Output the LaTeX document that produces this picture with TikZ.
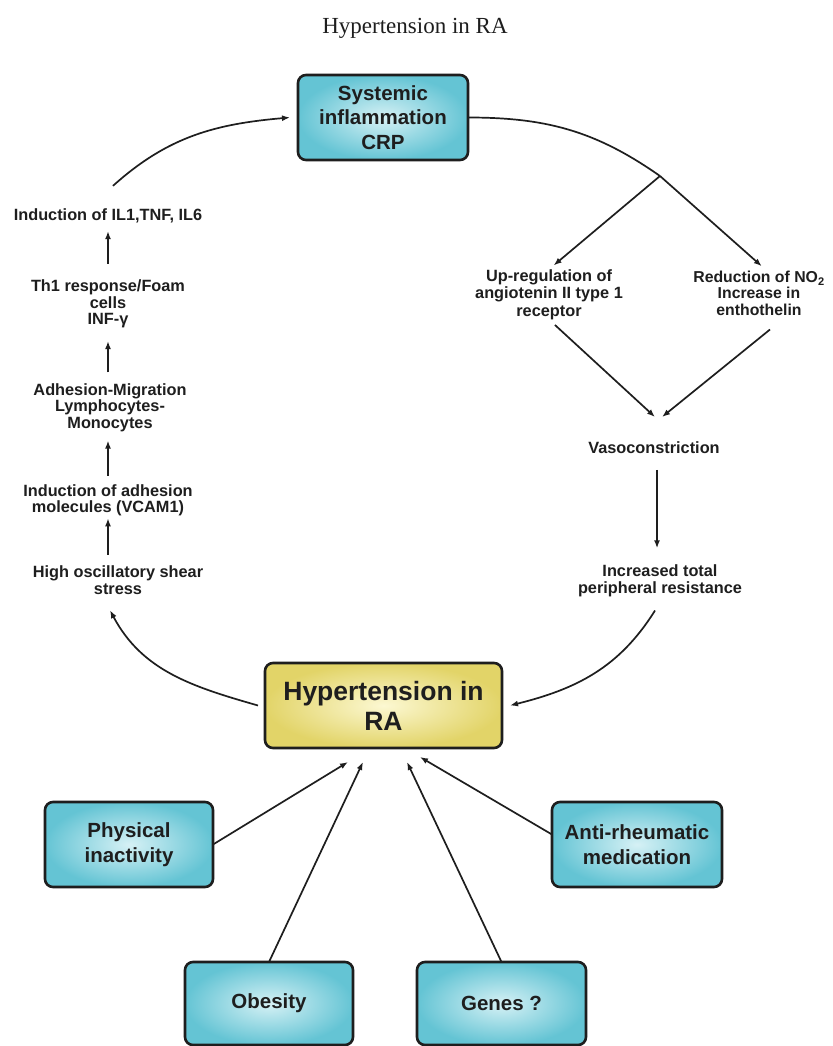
\documentclass[tikz,border=0pt]{standalone}
\usepackage{fontspec}
\setmainfont{Liberation Serif}
\setsansfont{Liberation Sans}
\usetikzlibrary{arrows.meta}
\definecolor{ink}{HTML}{1E1E1E}
\definecolor{cyanout}{RGB}{100,196,212}
\definecolor{cyanin}{RGB}{214,241,245}
\definecolor{yelout}{RGB}{226,212,104}
\definecolor{yelin}{RGB}{252,248,210}

\tikzset{
  every node/.style={inner sep=0pt, outer sep=0pt},
  lbl/.style={font=\sffamily\bfseries\fontsize{16.3}{16.5}\selectfont, text=ink, align=center},
  boxbase/.style={draw=ink, line width=2.6pt, rounded corners=8pt, align=center, text=ink,
    font=\sffamily\bfseries\fontsize{20.5}{24.5}\selectfont},
  cbox/.style={boxbase, inner color=cyanin, outer color=cyanout},
  ybox/.style={boxbase, inner color=yelin, outer color=yelout,
    font=\sffamily\bfseries\fontsize{26.5}{30}\selectfont},
  arr/.style={draw=ink, line width=1.7pt, -{Latex[length=8pt,width=6pt]}},
  link/.style={draw=ink, line width=1.7pt},
}

\begin{document}
\begin{tikzpicture}[x=1pt,y=1pt]
  \useasboundingbox (0,0) rectangle (832,-1046);
  \fill[white] (0,0) rectangle (832,-1046);

  % title
  \node[font=\fontsize{23}{26}\selectfont, text=ink] (title) at (415,-28) {Hypertension in RA};

  % boxes
  \node[cbox, minimum width=170pt, minimum height=85pt] (sys) at (383,-117.5) {Systemic\\inflammation\\CRP};
  \node[ybox, minimum width=237pt, minimum height=85pt] (hyp) at (383.5,-705.5) {Hypertension in\\RA};
  \node[cbox, minimum width=168pt, minimum height=85pt] (phys) at (129,-844.5) {Physical\\inactivity};
  \node[cbox, minimum width=170pt, minimum height=85pt] (anti) at (637,-844.5) {Anti-rheumatic\\medication};
  \node[cbox, minimum width=168pt, minimum height=83pt] (obes) at (269,-1003.5) {Obesity};
  \node[cbox, minimum width=169pt, minimum height=83pt] (genes) at (501.5,-1003.5) {Genes ?};

  % left chain
  \node[lbl] (il) at (108,-216) {Induction of IL1,TNF, IL6};
  \node[lbl] (th1) at (108,-304) {Th1 response/Foam\\cells\\INF-γ};
  \node[lbl] (adh) at (110,-407.5) {Adhesion-Migration\\Lymphocytes-\\Monocytes};
  \node[lbl] (vcam) at (108,-500.5) {Induction of adhesion\\molecules (VCAM1)};
  \node[lbl] (shear) at (118,-580) {High oscillatory shear\\stress};

  % right chain
  \node[lbl, font=\sffamily\bfseries\fontsize{16.3}{17.5}\selectfont] (up) at (549,-294.4) {Up-regulation of\\angiotenin II type 1\\receptor};
  \node[lbl, font=\sffamily\bfseries\fontsize{15.8}{16.5}\selectfont] (red) at (759,-293.2) {Reduction of NO\textsubscript{2}\\Increase in\\enthothelin};
  \node[lbl] (vaso) at (654,-448) {Vasoconstriction};
  \node[lbl, font=\sffamily\bfseries\fontsize{16.3}{17}\selectfont] (incr) at (660,-580.4) {Increased total\\peripheral resistance};

  % branch of the upper arc
  \coordinate (br) at (660,-176);
  \draw[link] (sys.east) to[out=0,in=145] (br);
  \draw[arr, shorten >=7pt] (br) -- ([xshift=8pt]red.north);
  \draw[arr, shorten >=6pt] (br) -- (up.north);

  % right side flow
  \draw[arr, shorten <=8pt] (up.south) -- ([xshift=1pt,yshift=25pt]vaso.north);
  \draw[arr] ([xshift=11pt,yshift=-14pt]red.south) -- ([xshift=8pt,yshift=25pt]vaso.north);
  \draw[arr] ([xshift=3pt,yshift=-16pt]vaso.south) -- ([xshift=-3pt,yshift=16pt]incr.north);
  \draw[arr] ([xshift=-5pt,yshift=-14pt]incr.south) to[out=238,in=14] ([xshift=8pt]hyp.east);

  % left side flow
  \draw[arr] ([xshift=-7pt]hyp.west) to[out=164,in=-62] ([xshift=-8pt,yshift=-16pt]shear.south);
  \draw[arr] ([xshift=-10pt,yshift=11pt]shear.north) -- ([yshift=-2pt]vcam.south);
  \draw[arr] ([yshift=9pt]vcam.north) -- ([xshift=-2pt,yshift=-9pt]adh.south);
  \draw[arr] ([xshift=-2pt,yshift=11pt]adh.north) -- ([yshift=-13pt]th1.south);
  \draw[arr] ([yshift=16pt]th1.north) -- ([yshift=-8pt]il.south);
  \draw[arr] ([xshift=5pt,yshift=23pt]il.north) to[out=42,in=185] ([xshift=-8pt]sys.west);

  % contributing factors
  \draw[arr] (phys.east) -- ([xshift=-35.5pt,yshift=-14pt]hyp.south);
  \draw[arr] (obes.north) -- ([xshift=-20.5pt,yshift=-14pt]hyp.south);
  \draw[arr] (genes.north) -- ([xshift=23.5pt,yshift=-14pt]hyp.south);
  \draw[arr] ([yshift=10pt]anti.west) -- ([xshift=36.5pt,yshift=-9pt]hyp.south);
\end{tikzpicture}
\end{document}
